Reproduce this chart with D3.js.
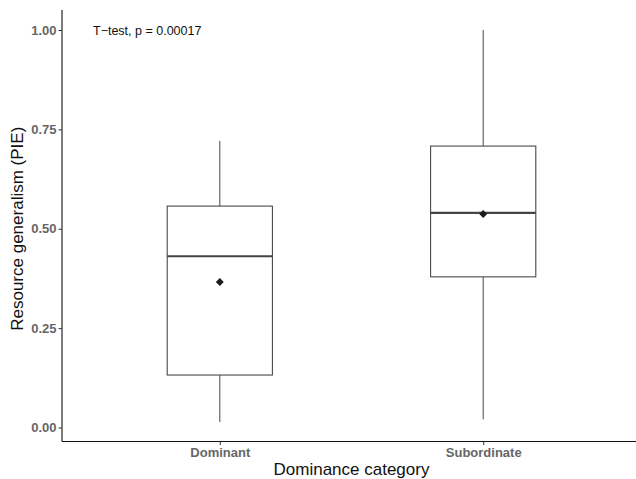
<html>
<head>
    <script src="https://d3js.org/d3.v7.min.js" charset="utf-8"></script>
    <style>
        body { margin: 0; background: #fff; }
        text { font-family: "Liberation Sans", Arial, sans-serif; }
    </style>
</head>
<body>
    <script>
        var categories = ["Dominant", "Subordinate"];
        var whiskerLow = [0.014, 0.021];
        var q1 = [0.132, 0.379];
        var medians = [0.431, 0.540];
        var q3 = [0.557, 0.708];
        var whiskerHigh = [0.721, 1.00];
        var means = [0.366, 0.537];
        var yTicks = [0, 0.25, 0.5, 0.75, 1];

        var width = 636, height = 479;
        var svg = d3.select("body").append("svg").attr("width", width).attr("height", height);

        // panel runs a bit past the right edge, like the original
        var x = d3.scalePoint().domain(categories).range([62 + 0.6 * 263, 641 - 0.6 * 263]);
        var y = d3.scaleLinear().domain([0, 1]).range([427.5, 30]);
        var boxW = 0.4 * 263;

        var data = categories.map(function (c, i) {
            return { cat: c, lo: whiskerLow[i], q1: q1[i], med: medians[i], q3: q3[i], hi: whiskerHigh[i], mean: means[i] };
        });

        var g = svg.selectAll("g.box").data(data).enter().append("g").attr("class", "box");

        // whiskers
        g.append("line")
            .attr("x1", function (d) { return x(d.cat); }).attr("x2", function (d) { return x(d.cat); })
            .attr("y1", function (d) { return y(d.q3); }).attr("y2", function (d) { return y(d.hi); })
            .attr("stroke", "#555").attr("stroke-width", 1.07);
        g.append("line")
            .attr("x1", function (d) { return x(d.cat); }).attr("x2", function (d) { return x(d.cat); })
            .attr("y1", function (d) { return y(d.q1); }).attr("y2", function (d) { return y(d.lo); })
            .attr("stroke", "#555").attr("stroke-width", 1.07);

        // boxes
        g.append("rect")
            .attr("x", function (d) { return x(d.cat) - boxW / 2; })
            .attr("width", boxW)
            .attr("y", function (d) { return y(d.q3); })
            .attr("height", function (d) { return y(d.q1) - y(d.q3); })
            .attr("fill", "#fff").attr("stroke", "#444").attr("stroke-width", 1.07);

        // median
        g.append("line")
            .attr("x1", function (d) { return x(d.cat) - boxW / 2; })
            .attr("x2", function (d) { return x(d.cat) + boxW / 2; })
            .attr("y1", function (d) { return y(d.med); }).attr("y2", function (d) { return y(d.med); })
            .attr("stroke", "#444").attr("stroke-width", 2.1);

        // mean diamond
        g.append("path")
            .attr("d", d3.symbol().type(d3.symbolDiamond2).size(40))
            .attr("transform", function (d) { return "translate(" + x(d.cat) + "," + y(d.mean) + ")"; })
            .attr("fill", "#1a1a1a");

        // axes
        var yAxis = svg.append("g").attr("transform", "translate(62,0)")
            .call(d3.axisLeft(y).tickValues(yTicks).tickFormat(d3.format(".2f")).tickSize(3.5).tickPadding(2));
        var xAxis = svg.append("g").attr("transform", "translate(0,441.5)")
            .call(d3.axisBottom(x).tickSize(3.5).tickPadding(3));
        [yAxis, xAxis].forEach(function (a) {
            a.select(".domain").attr("stroke", "#111").attr("stroke-width", 1.1);
            a.selectAll(".tick line").attr("stroke", "#333").attr("stroke-width", 1);
            a.selectAll(".tick text").attr("fill", "#666").attr("font-weight", "bold")
                .attr("font-size", "13px").style("font-family", "'Liberation Sans', Arial, sans-serif");
        });
        yAxis.select(".domain").attr("d", "M0,10V441.5");
        xAxis.select(".domain").attr("d", "M62,0H641");

        // titles
        svg.append("text").attr("x", 351.5).attr("y", 475).attr("text-anchor", "middle")
            .attr("font-size", "17px").attr("fill", "#111").text("Dominance category");
        svg.append("text").attr("transform", "translate(23," + y(0.5) + ") rotate(-90)")
            .attr("text-anchor", "middle").attr("font-size", "17px").attr("fill", "#111")
            .text("Resource generalism (PIE)");

        // annotation
        svg.append("text").attr("x", 93).attr("y", y(1) + 4.5).attr("font-size", "12.5px").attr("fill", "#111")
            .text("T\u2212test, p = 0.00017");
    </script>
</body>
</html>
